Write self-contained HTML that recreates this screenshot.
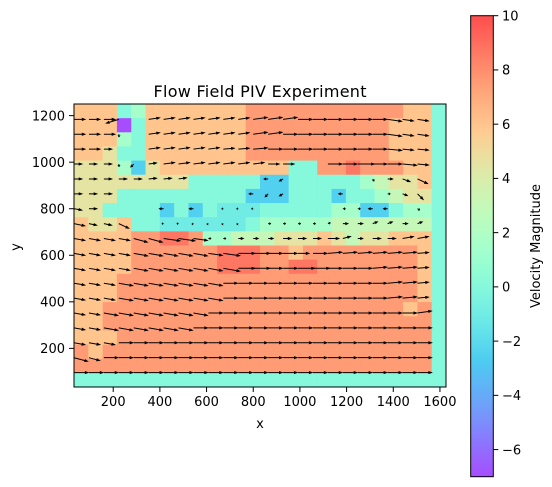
<!DOCTYPE html>
<html><head><meta charset="utf-8"><style>
html,body{margin:0;padding:0;background:#fff;}
svg{display:block;font-family:"DejaVu Sans","Liberation Sans",sans-serif;}
</style></head><body>
<svg id="chart" width="552" height="487" viewBox="0 0 552 487" xmlns="http://www.w3.org/2000/svg">
<defs>
<clipPath id="plotclip"><rect x="74" y="104" width="372" height="283"/></clipPath>
<linearGradient id="cbgrad" x1="0" y1="1" x2="0" y2="0"></linearGradient>
</defs>
<g id="heat" clip-path="url(#plotclip)"></g>
<g id="quiver" clip-path="url(#plotclip)"></g>
<rect x="74" y="104" width="372" height="283" fill="none" stroke="#000" stroke-width="1"/>
<g id="xaxis"></g>
<g id="yaxis"></g>
<text x="260" y="97" text-anchor="middle" font-size="16" textLength="213">Flow Field PIV Experiment</text>
<text x="260" y="428" text-anchor="middle" font-size="13">x</text>
<text x="20" y="247" text-anchor="middle" font-size="13" transform="rotate(-90 20 247)">y</text>
<rect x="470.7" y="15.7" width="22.6" height="461" fill="url(#cbgrad)" stroke="#000" stroke-width="1"/>
<g id="cbaxis"></g>
<text x="540" y="246" text-anchor="middle" font-size="13" transform="rotate(-90 540 246)">Velocity Magnitude</text>
</svg>
<script>
// heatmap values, rows from top (y=1250) to bottom, 26 columns
const P=6,S=7.5,D=8.7,T=4.5,G=3,M=1.5,Q=0,L=-1,C=-2.5,V=-7;
const Z = [
[P,P,P,Q,M,P,P,P,P,P,P,P,S,S,S,S,S,S,S,S,S,S,S,P,P,Q],
[P,P,P,V,Q,P,P,P,P,P,P,P,S,S,S,S,S,S,S,S,S,S,P,P,P,Q],
[P,P,P,M,Q,P,P,P,P,P,P,P,S,S,S,S,S,S,S,S,S,S,P,P,P,Q],
[P,P,T,Q,Q,P,P,P,P,P,P,P,S,S,S,S,S,S,S,S,S,S,P,P,P,Q],
[T,T,T,M,C,T,P,P,P,P,P,P,P,P,P,Q,Q,S,S,D,S,S,S,P,P,Q],
[T,T,T,T,T,T,T,T,Q,Q,Q,Q,Q,C,C,Q,Q,Q,Q,Q,M,G,T,T,P,Q],
[T,T,T,Q,Q,Q,Q,Q,Q,Q,Q,Q,C,C,C,Q,Q,Q,C,Q,Q,M,G,T,T,Q],
[T,T,Q,Q,Q,Q,C,Q,C,Q,L,L,L,Q,Q,Q,Q,Q,M,M,C,C,Q,M,M,Q],
[P,T,T,P,Q,Q,L,L,L,L,L,L,Q,M,M,M,M,M,G,G,G,G,G,G,G,Q],
[P,P,P,P,S,S,D,D,S,M,M,G,G,G,T,T,T,P,T,G,T,T,P,P,P,Q],
[P,P,P,P,S,S,S,S,S,S,D,D,D,S,S,P,S,S,S,S,S,S,S,S,P,Q],
[P,P,P,P,S,S,S,S,S,S,D,D,D,S,S,D,D,S,S,S,S,S,S,S,P,Q],
[P,P,P,S,S,S,S,S,S,S,S,S,S,S,S,S,S,S,S,S,S,S,S,S,P,Q],
[P,P,P,S,S,S,S,S,S,S,S,S,S,S,S,S,S,S,S,S,S,S,S,S,P,Q],
[P,P,S,S,S,S,S,S,S,S,S,S,S,S,S,S,S,S,S,S,S,S,S,P,S,Q],
[P,P,S,S,S,S,S,S,S,S,S,S,S,S,S,S,S,S,S,S,S,S,S,S,S,Q],
[P,P,P,S,S,S,S,S,S,S,S,S,S,S,S,S,S,S,S,S,S,S,S,S,S,Q],
[S,P,S,S,S,S,S,S,S,S,S,S,S,S,S,S,S,S,S,S,S,S,S,S,S,Q],
[S,S,S,S,S,S,S,S,S,S,S,S,S,S,S,S,S,S,S,S,S,S,S,S,S,Q],
[Q,Q,Q,Q,Q,Q,Q,Q,Q,Q,Q,Q,Q,Q,Q,Q,Q,Q,Q,Q,Q,Q,Q,Q,Q,Q]
];
// vector angles (deg, up positive), rows from top (y=1184) to bottom (y=96)
const ANG = [
[0,0,0,17,-85,8,8,8,8,8,8,8,8,8,8,0,0,0,0,0,0,-8,-8,-8,-8,0],
[0,0,0,-85,-85,8,8,8,8,8,8,8,8,8,0,0,0,0,0,0,0,-8,-8,-8,-8,0],
[0,0,0,-85,-85,8,8,8,8,8,5,5,5,0,0,0,0,0,0,0,0,-5,-5,-5,-5,0],
[0,0,0,-85,45,8,8,8,8,8,8,8,8,0,0,0,0,0,0,0,0,0,-5,-5,-8,0],
[0,0,0,0,0,5,5,8,0,0,0,0,0,0,30,30,60,-60,-60,-60,-60,0,-20,-25,-30,0],
[0,0,0,0,0,0,0,0,0,0,0,0,0,45,30,30,80,0,0,0,-60,0,-20,-45,-50,0],
[-10,0,0,0,0,0,0,0,0,0,0,0,0,0,60,60,0,0,0,0,0,0,0,-30,-30,0],
[-12,-12,-12,-25,0,0,0,0,20,30,30,30,0,0,0,0,0,20,0,0,20,20,0,20,20,0],
[-10,-10,-10,-10,-15,-15,-8,-8,-8,0,0,0,0,0,0,0,0,0,15,0,0,0,10,10,15,0],
[-10,-10,-10,-10,-10,-10,-10,-10,-10,-8,-8,0,0,0,0,0,0,5,5,5,5,5,5,5,5,0],
[-10,-10,-10,-10,-10,-10,-10,-10,-10,-10,-10,0,0,0,0,0,0,0,0,0,5,5,5,5,5,0],
[-10,-10,-10,-10,-10,-10,-10,-10,-10,-10,0,0,0,0,0,0,0,0,0,0,0,5,5,5,5,0],
[-10,-10,-10,-10,-10,-10,-10,-10,-10,-10,0,0,0,0,0,0,0,0,0,0,0,5,5,5,5,0],
[-10,-10,-10,-10,-10,-10,-10,-10,-10,0,0,0,0,0,0,0,0,0,0,0,0,0,0,8,8,0],
[-10,-10,-10,-10,-10,-10,-10,-10,0,0,0,0,0,0,0,0,0,0,0,0,0,0,0,0,0,0],
[-10,-10,-10,0,0,0,0,0,0,0,0,0,0,0,0,0,0,0,0,0,0,0,0,0,0,0],
[-15,-15,0,0,0,0,0,0,0,0,0,0,0,0,0,0,0,0,0,0,0,0,0,0,0,0],
[0,0,0,0,0,0,0,0,0,0,0,0,0,0,0,0,0,0,0,0,0,0,0,0,0,0]
];
const xTicks=[200,400,600,800,1000,1200,1400,1600];
const yTicks=[200,400,600,800,1000,1200];
const cbTicks=[10,8,6,4,2,0,-2,-4,-6];
const vmin=-7, vmax=10;
const X0=32, X1=1626, Y0=34, Y1=1250;

const NS="http://www.w3.org/2000/svg";
function xs(v){return 74+(v-X0)/(X1-X0)*372;}
function ys(v){return 387-(v-Y0)/(Y1-Y0)*283;}
function cs(v){return 476.7-(v-vmin)/(vmax-vmin)*461;}
function cmap(v){
  let t=Math.max(0,Math.min(1,(v-vmin)/(vmax-vmin)));
  let r=Math.min(1,Math.abs(2*t-0.5)), g=Math.sin(Math.PI*t), b=Math.cos(Math.PI*t/2);
  const a=0.7;
  const f=c=>Math.round((Math.max(0,Math.min(1,c))*a+(1-a))*255);
  return `rgb(${f(r)},${f(g)},${f(b)})`;
}
function mk(tag,attrs,parent){const e=document.createElementNS(NS,tag);for(const k in attrs)e.setAttribute(k,attrs[k]);parent.appendChild(e);return e;}

// heatmap
const heat=document.getElementById('heat');
const nR=Z.length,nC=Z[0].length;
const dx=(X1-X0)/nC, dy=(Y1-Y0)/nR;
for(let r=0;r<nR;r++)for(let c=0;c<nC;c++){
  const x0=xs(X0+c*dx),x1=xs(X0+(c+1)*dx),y0=ys(Y1-r*dy),y1=ys(Y1-(r+1)*dy);
  const e=mk('rect',{x:x0,y:y0,width:x1-x0+0.4,height:y1-y0+0.4,fill:cmap(Z[r][c])},heat);
  
  
}
// quiver
const q=document.getElementById('quiver');
const PX_PER_UNIT=2.05;
for(let j=0;j<ANG.length;j++)for(let i=0;i<ANG[j].length;i++){
  const dataX=32+64*i, dataY=1184-64*j;
  const tx=xs(dataX), ty=ys(dataY);
  const c=Math.min(nC-1,Math.max(0,Math.floor((dataX-X0)/dx)));
  const r=Math.min(nR-1,Math.max(0,Math.floor((Y1-dataY)/dy)));
  const m=Z[r][c]*PX_PER_UNIT;
  const a=ANG[j][i]*Math.PI/180;
  const ux=Math.cos(a)*m, uy=-Math.sin(a)*m;
  const len=Math.hypot(ux,uy);
  if(len<0.3)continue;
  const ex=ux/len, ey=uy/len, nx=-ey, ny=ex;
  const hl=Math.min(4.5,len*0.6), hw=1.6, sw=0.5;
  const hx=tx+ux, hy=ty+uy, bx=hx-ex*hl, by=hy-ey*hl;
  const pts=[[tx+nx*sw,ty+ny*sw],[bx+nx*sw,by+ny*sw],[bx+nx*hw,by+ny*hw],[hx,hy],[bx-nx*hw,by-ny*hw],[bx-nx*sw,by-ny*sw],[tx-nx*sw,ty-ny*sw]];
  const e=mk('polygon',{points:pts.map(p=>p[0].toFixed(2)+','+p[1].toFixed(2)).join(' '),fill:'#000'},q);
  
  
}
// axes
const xa=document.getElementById('xaxis');
xTicks.forEach(v=>{
  const x=xs(v);
  const t=mk('line',{x1:x,x2:x,y1:387,y2:392,stroke:'#000','stroke-width':1},xa);
  
  
  const l=mk('text',{x:x,y:406,'text-anchor':'middle','font-size':13},xa);
  l.textContent=v;
  
  
});
const ya=document.getElementById('yaxis');
yTicks.forEach(v=>{
  const y=ys(v);
  const t=mk('line',{x1:69,x2:74,y1:y,y2:y,stroke:'#000','stroke-width':1},ya);
  
  
  const l=mk('text',{x:65,y:y+4.7,'text-anchor':'end','font-size':13},ya);
  l.textContent=v;
  
  
});
// colorbar
const grad=document.getElementById('cbgrad');
for(let k=0;k<=40;k++){
  const v=vmin+(vmax-vmin)*k/40;
  mk('stop',{offset:(k/40),'stop-color':cmap(v)},grad);
}
const cb=document.getElementById('cbaxis');
cbTicks.forEach(v=>{
  const y=cs(v);
  const t=mk('line',{x1:493.3,x2:498.3,y1:y,y2:y,stroke:'#000','stroke-width':1},cb);
  
  
  const l=mk('text',{x:502,y:y+4.7,'text-anchor':'start','font-size':13},cb);
  l.textContent=v<0?'\u2212'+Math.abs(v):String(v);
  
  
});
</script>
</body></html>
